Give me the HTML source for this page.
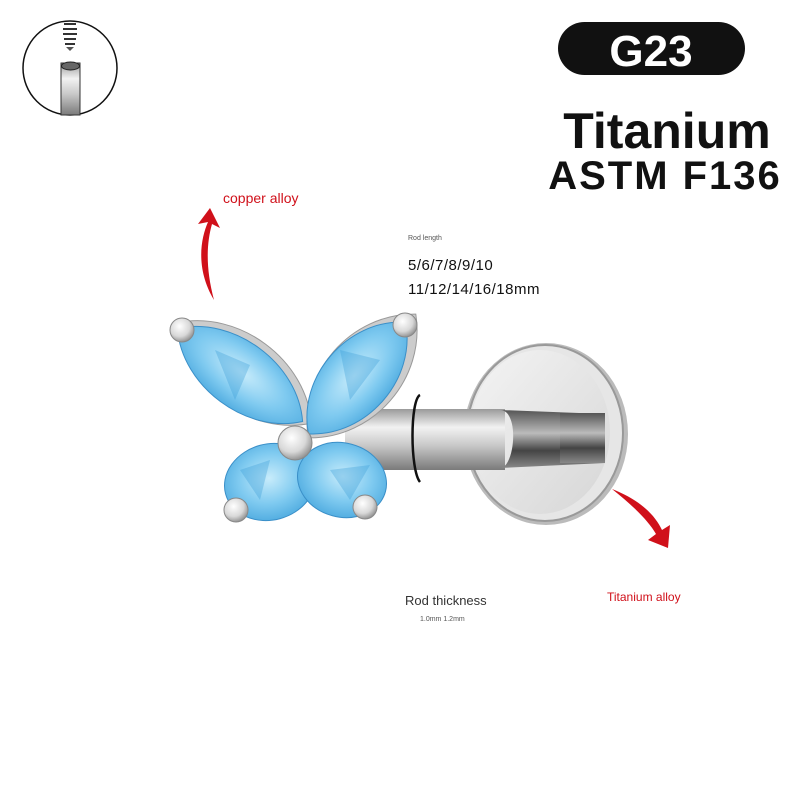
<!DOCTYPE html>
<html><head><meta charset="utf-8"><style>
html,body{margin:0;padding:0;background:#fff;}
svg{display:block;}
text{font-family:"Liberation Sans","DejaVu Sans",sans-serif;}
</style></head><body>
<svg width="800" height="800" viewBox="0 0 800 800" xmlns="http://www.w3.org/2000/svg">
<defs>
<linearGradient id="rod" x1="0" y1="0" x2="0" y2="1">
<stop offset="0" stop-color="#9a9a9a"/><stop offset="0.3" stop-color="#f2f2f2"/><stop offset="0.6" stop-color="#c8c8c8"/><stop offset="1" stop-color="#7a7a7a"/></linearGradient>
<linearGradient id="rod2" x1="0" y1="0" x2="0" y2="1">
<stop offset="0" stop-color="#555"/><stop offset="0.4" stop-color="#bbb"/><stop offset="0.7" stop-color="#444"/><stop offset="1" stop-color="#888"/></linearGradient>
<radialGradient id="gem" cx="0.5" cy="0.45" r="0.6">
<stop offset="0" stop-color="#c8ecfb"/><stop offset="0.55" stop-color="#7fcaf0"/><stop offset="1" stop-color="#4aa8de"/></radialGradient>
<radialGradient id="bead" cx="0.4" cy="0.35" r="0.7">
<stop offset="0" stop-color="#fff"/><stop offset="0.6" stop-color="#d8d8d8"/><stop offset="1" stop-color="#888"/></radialGradient>
<linearGradient id="disc" x1="0" y1="0" x2="1" y2="1">
<stop offset="0" stop-color="#f4f4f4"/><stop offset="1" stop-color="#d6d6d6"/></linearGradient>
</defs>

<circle cx="70" cy="68" r="47" fill="#fff" stroke="#111" stroke-width="1.5"/>
<g fill="none" stroke="#333" stroke-width="2">
<path d="M64 24 h12 M63 29 h14 M63 34 h14 M64 39 h12 M65 44 h10"/>
</g>
<path d="M66 47 h8 l-4 4z" fill="#555"/>
<rect x="61" y="63" width="19" height="52" fill="url(#rod)" stroke="#333" stroke-width="1"/>
<ellipse cx="70.5" cy="66" rx="9" ry="4" fill="#666" stroke="#222"/>

<rect x="558" y="22" width="187" height="53" rx="26.5" fill="#111"/>
<text x="651" y="66" font-size="44" font-weight="bold" fill="#fff" text-anchor="middle">G23</text>
<text x="667" y="148" font-size="50" font-weight="bold" fill="#111" text-anchor="middle">Titanium</text>
<text x="665" y="189" font-size="40" font-weight="bold" fill="#111" text-anchor="middle" letter-spacing="2">ASTM F136</text>

<text x="223" y="203" font-size="14" fill="#d0101a">copper alloy</text>
<text x="408" y="240" font-size="7" fill="#555">Rod length</text>
<text x="408" y="270" font-size="15" fill="#111" letter-spacing="0.5">5/6/7/8/9/10</text>
<text x="408" y="294" font-size="15" fill="#111" letter-spacing="0.5">11/12/14/16/18mm</text>
<text x="405" y="605" font-size="13" fill="#333">Rod thickness</text>
<text x="420" y="621" font-size="7" fill="#555">1.0mm 1.2mm</text>
<text x="607" y="601" font-size="12" fill="#d0101a">Titanium alloy</text>

<path d="M214 300 C196 270 200 240 208 222 L198 224 L210 208 L220 228 L212 224 C206 245 206 270 214 300z" fill="#d0101a"/>
<path d="M612 489 C640 500 655 515 662 530 L670 525 L668 548 L648 540 L656 534 C648 520 632 505 612 489z" fill="#d0101a"/>

<ellipse cx="546" cy="434" rx="82" ry="91" fill="#bbb"/>
<ellipse cx="545" cy="433" rx="78" ry="88" fill="#e6e6e6" stroke="#999" stroke-width="2"/>
<ellipse cx="540" cy="432" rx="70" ry="82" fill="url(#disc)"/>

<path d="M345 409 L505 409 L505 470 L345 470 z" fill="url(#rod)"/>
<path d="M500 410 C520 410 515 468 500 468 L605 463 L605 414 z" fill="url(#rod2)"/>
<rect x="560" y="413" width="45" height="50" fill="url(#rod2)"/>
<path d="M420 395 C410 400 410 470 420 482" fill="none" stroke="#111" stroke-width="2.5"/>

<g transform="translate(244,373) rotate(36.6)"><path d="M-84 0 C-42 -48 42 -48 84 0 C42 48 -42 48 -84 0z" fill="#ccc" stroke="#999"/></g>
<g transform="translate(362,376) rotate(-49)"><path d="M-82 0 C-40 -50 40 -50 82 0 C40 50 -40 50 -82 0z" fill="#ccc" stroke="#999"/></g>
<g transform="translate(240,375) rotate(36.6)"><path d="M-78 0 C-40 -44 40 -44 78 0 C40 44 -40 44 -78 0z" fill="url(#gem)" stroke="#3a8fc8"/></g>
<g transform="translate(357,378) rotate(-49)"><path d="M-74 0 C-38 -46 38 -46 74 0 C38 46 -38 46 -74 0z" fill="url(#gem)" stroke="#3a8fc8"/></g>
<ellipse cx="270" cy="482" rx="46" ry="38" transform="rotate(-15 270 482)" fill="url(#gem)" stroke="#3a8fc8"/>
<ellipse cx="342" cy="480" rx="45" ry="37" transform="rotate(15 342 480)" fill="url(#gem)" stroke="#3a8fc8"/>
<path d="M215 350 L250 365 L235 400 Z M340 350 L380 360 L350 400Z M240 470 L270 460 L260 500Z M330 470 L370 465 L350 500Z" fill="#3d9fd8" opacity="0.35"/>
<circle cx="182" cy="330" r="12" fill="url(#bead)" stroke="#888"/>
<circle cx="405" cy="325" r="12" fill="url(#bead)" stroke="#888"/>
<circle cx="236" cy="510" r="12" fill="url(#bead)" stroke="#888"/>
<circle cx="365" cy="507" r="12" fill="url(#bead)" stroke="#888"/>
<circle cx="295" cy="443" r="17" fill="url(#bead)" stroke="#888"/>
</svg>
</body></html>
